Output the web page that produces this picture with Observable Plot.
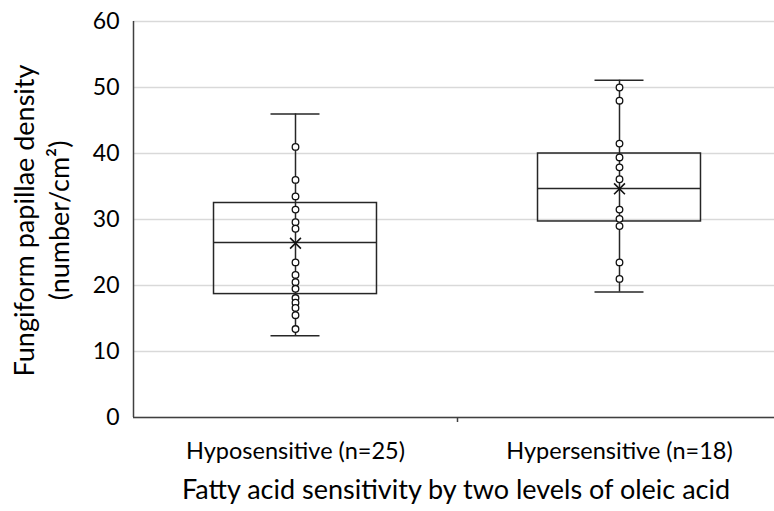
<!DOCTYPE html>
<html>
<head>
<meta charset="utf-8">
<script src="https://cdn.jsdelivr.net/npm/d3@7"></script>
<script src="https://cdn.jsdelivr.net/npm/@observablehq/plot@0.6"></script>
<style>
  html, body { margin: 0; padding: 0; background: #fff; }
  svg { display: block; }
</style>
</head>
<body>
<div id="chart"></div>
<script>
// ---- data ----
const categories = ["Hyposensitive (n=25)", "Hypersensitive (n=18)"];
const hypoPoints = [41, 36, 33.5, 31.5, 29.6, 28.6, 23.5, 21.6, 20.5, 19.5, 18.1, 17.4, 16.6, 15.5, 13.4];
const hyperPoints = [50, 48, 41.5, 39.4, 37.9, 36.1, 31.5, 30.1, 29, 23.5, 21];
const whiskerMin = [12.4, 19.0];
const whiskerMax = [46.0, 51.1];
const q1 = [18.7, 29.7];
const q3 = [32.5, 40.0];
const median = [26.5, 34.7];
const mean = [26.4, 34.65];
const yTicks = [0, 10, 20, 30, 40, 50, 60];
const yTitle = ["Fungiform papillae density", "(number/cm²)"];
const xTitle = "Fatty acid sensitivity by two levels of oleic acid";

// ---- build tables ----
const stats = categories.map((c, i) => ({
  i, cat: c, min: whiskerMin[i], max: whiskerMax[i], q1: q1[i], q3: q3[i], med: median[i], mean: mean[i]
}));
const points = [
  ...hypoPoints.map(v => ({i: 0, v})),
  ...hyperPoints.map(v => ({i: 1, v}))
];

const boxHalf = 0.2515;  // half box width in category units
const capHalf = 0.0756;  // half whisker cap width
const ink = "#262626";
const font = "Lato, 'Open Sans', sans-serif";

const chart = Plot.plot({
  width: 774,
  height: 511,
  marginLeft: 133,
  marginRight: 0,
  marginTop: 21,
  marginBottom: 94,
  style: {fontFamily: font, background: "#fff", color: "#000"},
  x: {domain: [-0.5, 1.5], range: [133, 781], label: null},
  y: {domain: [0, 60], label: null},
  marks: [
    Plot.gridY(yTicks, {stroke: "#d9d9d9", strokeOpacity: 1, strokeWidth: 1.5}),
    Plot.ruleX([-0.5], {y1: 0, y2: 60, stroke: "#404040", strokeWidth: 1.5}),
    Plot.ruleY([0], {stroke: "#404040", strokeWidth: 1.5}),
    Plot.axisY(yTicks, {tickSize: 0, tickPadding: 14, fontSize: 23, fill: "#000", label: null}),
    Plot.axisX([0, 1], {tickSize: 0, tickPadding: 25, fontSize: 23.5, fill: "#000", label: null, tickFormat: i => categories[i]}),
    Plot.axisX([0.5], {tickSize: 5, tickFormat: () => "", stroke: "#404040", strokeWidth: 1.5, label: null}),
    // whiskers
    Plot.ruleX(stats, {x: "i", y1: "min", y2: "max", stroke: ink, strokeWidth: 1.5}),
    Plot.ruleY(stats, {y: "max", x1: d => d.i - capHalf, x2: d => d.i + capHalf, stroke: ink, strokeWidth: 1.5}),
    Plot.ruleY(stats, {y: "min", x1: d => d.i - capHalf, x2: d => d.i + capHalf, stroke: ink, strokeWidth: 1.5}),
    // box
    Plot.rect(stats, {x1: d => d.i - boxHalf, x2: d => d.i + boxHalf, y1: "q1", y2: "q3", fill: "none", stroke: ink, strokeWidth: 1.5}),
    Plot.ruleY(stats, {y: "med", x1: d => d.i - boxHalf, x2: d => d.i + boxHalf, stroke: ink, strokeWidth: 1.5}),
    // points
    Plot.dot(points, {x: "i", y: "v", r: 3.3, fill: "#fff", stroke: "#111", strokeWidth: 1.3}),
    Plot.dot(stats, {x: "i", y: "mean", symbol: "times", r: 5, stroke: "#111", strokeWidth: 1.6}),
    // titles
    Plot.text([yTitle[0]], {frameAnchor: "left", textAnchor: "middle", rotate: -90, dx: -108, dy: 1, fontSize: 27, fill: "#000"}),
    Plot.text([yTitle[1]], {frameAnchor: "left", textAnchor: "middle", rotate: -90, dx: -73, dy: 1, fontSize: 27, fill: "#000"}),
    Plot.text([xTitle], {frameAnchor: "bottom", textAnchor: "middle", dy: 81, dx: 2, fontSize: 27, fill: "#000"})
  ]
});
document.getElementById("chart").appendChild(chart);
</script>
</body>
</html>
